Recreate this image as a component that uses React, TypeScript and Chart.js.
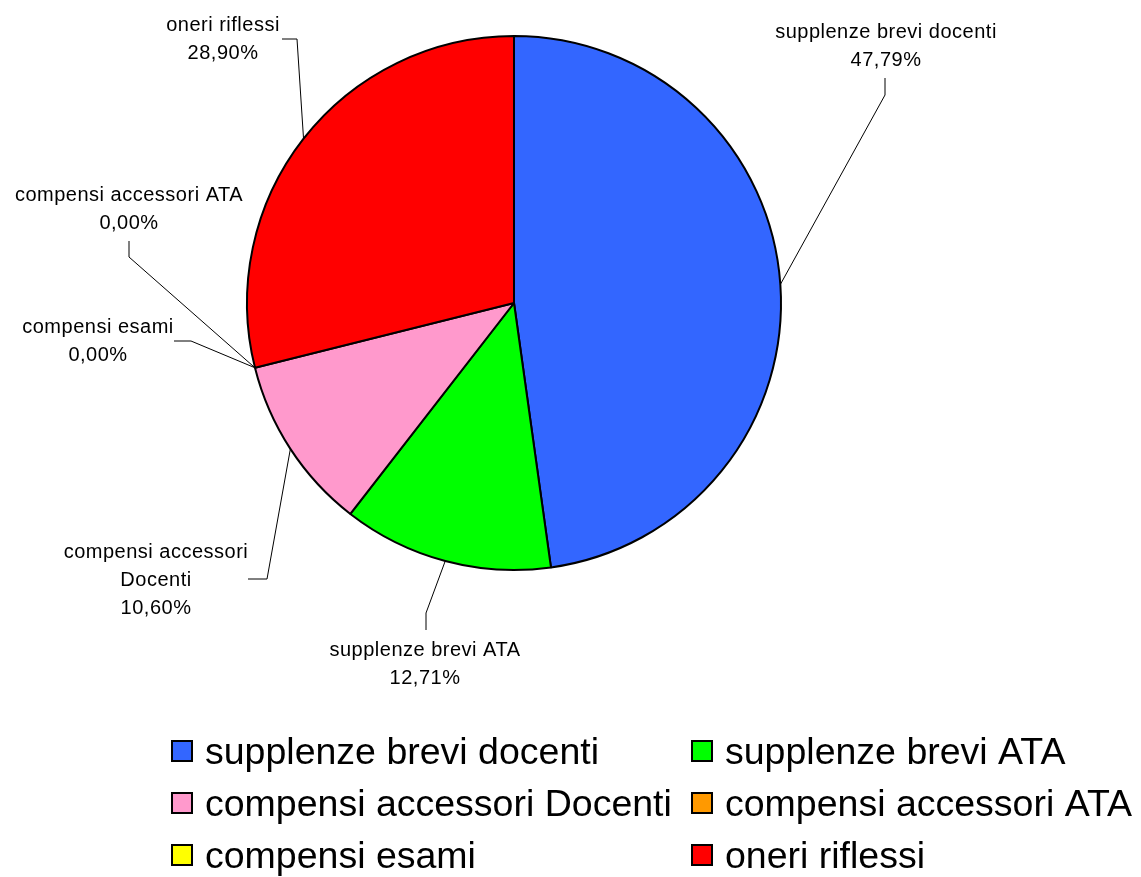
import React, { useEffect, useRef } from "react";
import { Chart, registerables } from "chart.js";

Chart.register(...registerables);

// Spending breakdown (percent of total)
const categories = [
  "supplenze brevi docenti",
  "supplenze brevi ATA",
  "compensi accessori Docenti",
  "compensi accessori ATA",
  "compensi esami",
  "oneri riflessi",
];
const values = [47.79, 12.71, 10.6, 0.0, 0.0, 28.9];
const sliceLabelText = [
  "supplenze brevi docenti",
  "supplenze brevi ATA",
  "compensi accessori\nDocenti",
  "compensi accessori ATA",
  "compensi esami",
  "oneri riflessi",
];
const colors = ["#3366FF", "#00FF00", "#FF99CC", "#FF9900", "#FFFF00", "#FF0000"];

// Label placement: text centre (first line), leader elbow and leader end
const labelLayout = [
  { x: 886, y: 32, elbow: [885, 95], end: [885, 78] },
  { x: 425, y: 650, elbow: [426, 613], end: [426, 630] },
  { x: 156, y: 552, elbow: [267, 579], end: [248, 579] },
  { x: 129, y: 195, elbow: [129, 257], end: [129, 241] },
  { x: 98, y: 327, elbow: [191, 341], end: [174, 341] },
  { x: 223, y: 25, elbow: [297, 39], end: [282, 39] },
];

// Legend grid: two columns, three rows
const legendCols = [171, 691];
const legendRowCenters = [751, 803, 855];

const FONT = '"Liberation Sans", Arial, sans-serif';

const fmtPct = (v: number, total: number) =>
  (total ? (v / total) * 100 : 0).toFixed(2).replace(".", ",") + "%";

const calloutPlugin = {
  id: "callouts",
  afterDatasetsDraw(chart: any) {
    const ctx = chart.ctx as CanvasRenderingContext2D;
    const meta = chart.getDatasetMeta(0);
    const data = chart.data.datasets[0].data as number[];
    const total = data.reduce((a, b) => a + b, 0);
    ctx.save();
    meta.data.forEach((arc: any, i: number) => {
      const p = arc.getProps(["x", "y", "startAngle", "endAngle", "outerRadius"], true);
      const mid = (p.startAngle + p.endAngle) / 2;
      const sx = p.x + Math.cos(mid) * p.outerRadius;
      const sy = p.y + Math.sin(mid) * p.outerRadius;
      const lay = labelLayout[i];
      ctx.strokeStyle = "#000";
      ctx.lineWidth = 1;
      ctx.beginPath();
      ctx.moveTo(sx, sy);
      ctx.lineTo(lay.elbow[0], lay.elbow[1]);
      ctx.lineTo(lay.end[0], lay.end[1]);
      ctx.stroke();

      const lines = sliceLabelText[i].split("\n").concat(fmtPct(data[i], total));
      ctx.fillStyle = "#000";
      ctx.font = `20px ${FONT}`;
      (ctx as any).letterSpacing = "0.5px";
      ctx.textAlign = "center";
      ctx.textBaseline = "middle";
      lines.forEach((t, k) => ctx.fillText(t, lay.x, lay.y + k * 28));
    });
    ctx.restore();
  },
  afterDraw(chart: any) {
    const ctx = chart.ctx as CanvasRenderingContext2D;
    ctx.save();
    ctx.font = `37.5px ${FONT}`;
    (ctx as any).letterSpacing = "0px";
    ctx.textAlign = "left";
    ctx.textBaseline = "alphabetic";
    const box = 22;
    chart.data.labels.forEach((lab: string, i: number) => {
      const col = i % 2;
      const row = Math.floor(i / 2);
      const bx = legendCols[col];
      const cy = legendRowCenters[row];
      ctx.fillStyle = colors[i];
      ctx.fillRect(bx, cy - box / 2, box, box);
      ctx.strokeStyle = "#000";
      ctx.lineWidth = 2;
      ctx.strokeRect(bx + 1, cy - box / 2 + 1, box - 2, box - 2);
      ctx.fillStyle = "#000";
      ctx.fillText(lab, bx + box + 12, cy + box / 2 + 2);
    });
    ctx.restore();
  },
};

export default function App() {
  const ref = useRef<HTMLCanvasElement>(null);
  useEffect(() => {
    if (!ref.current) return;
    const chart = new Chart(ref.current, {
      type: "pie",
      data: {
        labels: categories,
        datasets: [
          {
            data: values,
            backgroundColor: colors,
            borderColor: "#000",
            borderWidth: 2,
          },
        ],
      },
      options: {
        responsive: false,
        animation: false,
        devicePixelRatio: 1,
        layout: { padding: { left: 246, right: 359, top: 35, bottom: 306 } },
        plugins: {
          legend: { display: false },
          tooltip: { enabled: false },
        },
      },
      plugins: [calloutPlugin],
    });
    return () => chart.destroy();
  }, []);
  return (
    <div style={{ position: "absolute", left: 0, top: 0, width: 1141, height: 877, background: "#fff" }}>
      <canvas ref={ref} width={1141} height={877} style={{ width: 1141, height: 877 }} />
    </div>
  );
}
